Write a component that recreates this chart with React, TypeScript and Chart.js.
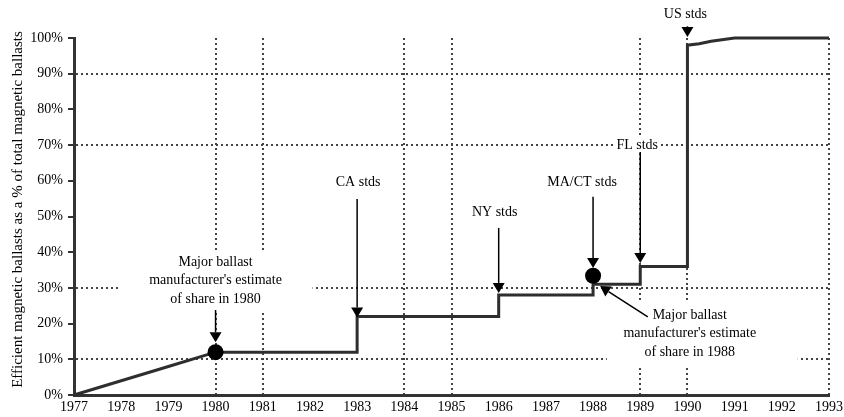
import React, { useEffect, useRef } from "react";
import { Chart, registerables } from "chart.js";

Chart.register(...registerables);

// ---------- data ----------
const years = [1977, 1978, 1979, 1980, 1983, 1983, 1986, 1986, 1988, 1988, 1989, 1989, 1990, 1990, 1990.25, 1990.5, 1991, 1993];
const shares = [0, 4, 8, 12, 12, 22, 22, 28, 28, 31, 31, 36, 36, 98, 98.4, 99.1, 100, 100];

const estimateYears = [1980, 1988];
const estimateShares = [12, 33.4];

const xGridYears = [1980, 1981, 1984, 1985, 1989, 1990, 1993];
const yGridShares = [10, 30, 70, 90];

const yTitle = "Efficient magnetic ballasts as a % of total magnetic ballasts";

const standardLabels = ["CA stds", "NY stds", "MA/CT stds", "FL stds", "US stds"];
const standardYears = [1983, 1986, 1988, 1989, 1990];

const estimateLabel1980 = ["Major ballast", "manufacturer's estimate", "of share in 1980"];
const estimateLabel1988 = ["Major ballast", "manufacturer's estimate", "of share in 1988"];

// ---------- annotation layout (data coords + pixel offsets) ----------
const standardLayout = [
  { dx: 1, textY: 59.7, tailY: 54.9, tipY: 21.7, box: false },
  { dx: -4, textY: 51.3, tailY: 46.8, tipY: 28.6, box: false },
  { dx: -11, textY: 59.7, tailY: 55.5, tipY: 35.6, box: false },
  { dx: -3, textY: 70.0, tailY: 68.1, tipY: 37.0, box: true },
  { dx: -2, textY: 106.7, tailY: 103.3, tipY: 100.3, box: false },
];

const FONT_FAMILY = '"Liberation Serif", "Times New Roman", serif';
const FONT = `14px ${FONT_FAMILY}`;
const TITLE_FONT = `15px ${FONT_FAMILY}`;
const LINE_GAP = 18.5;

function drawArrow(ctx: CanvasRenderingContext2D, x1: number, y1: number, x2: number, y2: number, headLen = 10, headW = 6) {
  const ang = Math.atan2(y2 - y1, x2 - x1);
  const bx = x2 - headLen * Math.cos(ang);
  const by = y2 - headLen * Math.sin(ang);
  ctx.beginPath();
  ctx.moveTo(x1, y1);
  ctx.lineTo(bx, by);
  ctx.stroke();
  ctx.beginPath();
  ctx.moveTo(x2, y2);
  ctx.lineTo(bx + headW * Math.sin(ang), by - headW * Math.cos(ang));
  ctx.lineTo(bx - headW * Math.sin(ang), by + headW * Math.cos(ang));
  ctx.closePath();
  ctx.fill();
}

const annotationPlugin = {
  id: "ballastAnnotations",
  beforeDatasetsDraw(chart: any) {
    const ctx: CanvasRenderingContext2D = chart.ctx;
    const xs = chart.scales.x;
    const ys = chart.scales.y;
    ctx.save();
    ctx.fillStyle = "#fff";
    {
      const cx = xs.getPixelForValue(1980);
      const y0 = ys.getPixelForValue(37.25);
      ctx.fillRect(cx - 96, y0 - 12, 193, LINE_GAP * 2 + 24);
    }
    {
      const cx = xs.getPixelForValue(1990.05);
      const y0 = ys.getPixelForValue(22.4);
      ctx.fillRect(cx - 83, y0 - 12, 191, LINE_GAP * 2 + 28);
    }
    ctx.font = FONT;
    standardLabels.forEach((lab, i) => {
      const L = standardLayout[i];
      if (!L.box) return;
      const cx = xs.getPixelForValue(standardYears[i]) + L.dx;
      const cy = ys.getPixelForValue(L.textY);
      const w = ctx.measureText(lab).width;
      ctx.fillRect(cx - w / 2 - 2, cy - 8, w + 4, 16);
    });
    ctx.restore();
  },
  afterDatasetsDraw(chart: any) {
    const ctx: CanvasRenderingContext2D = chart.ctx;
    const xs = chart.scales.x;
    const ys = chart.scales.y;
    ctx.save();
    ctx.font = FONT;
    ctx.fillStyle = "#000";
    ctx.strokeStyle = "#000";
    ctx.lineWidth = 1.5;
    ctx.textAlign = "center";
    ctx.textBaseline = "middle";

    standardLabels.forEach((lab, i) => {
      const L = standardLayout[i];
      const ax = xs.getPixelForValue(standardYears[i]);
      ctx.fillText(lab, ax + L.dx, ys.getPixelForValue(L.textY));
      drawArrow(ctx, ax, ys.getPixelForValue(L.tailY), ax, ys.getPixelForValue(L.tipY));
    });

    {
      const cx = xs.getPixelForValue(1980);
      const y0 = ys.getPixelForValue(37.25);
      estimateLabel1980.forEach((t, i) => ctx.fillText(t, cx, y0 + i * LINE_GAP));
      drawArrow(ctx, cx, ys.getPixelForValue(23.8), cx, ys.getPixelForValue(14.8));
    }
    {
      const cx = xs.getPixelForValue(1990.05);
      const y0 = ys.getPixelForValue(22.4);
      estimateLabel1988.forEach((t, i) => ctx.fillText(t, cx, y0 + i * LINE_GAP));
      drawArrow(
        ctx,
        xs.getPixelForValue(1989.16),
        ys.getPixelForValue(21.85),
        xs.getPixelForValue(1988.15),
        ys.getPixelForValue(30.5)
      );
    }
    ctx.restore();
  },
  afterDraw(chart: any) {
    const ctx: CanvasRenderingContext2D = chart.ctx;
    const area = chart.chartArea;
    ctx.save();
    ctx.font = TITLE_FONT;
    ctx.fillStyle = "#000";
    ctx.textAlign = "center";
    ctx.textBaseline = "middle";
    ctx.translate(18, (area.top + area.bottom) / 2 - 7);
    ctx.rotate(-Math.PI / 2);
    ctx.fillText(yTitle, 0, 0);
    ctx.restore();
  },
};

export default function App() {
  const canvasRef = useRef<HTMLCanvasElement | null>(null);

  useEffect(() => {
    const canvas = canvasRef.current;
    if (!canvas) return;
    const chart = new Chart(canvas, {
      type: "line",
      data: {
        datasets: [
          {
            type: "scatter",
            label: "Estimates",
            data: estimateYears.map((x, i) => ({ x, y: estimateShares[i] })),
            pointRadius: 8,
            pointBackgroundColor: "#000",
            pointBorderWidth: 0,
            showLine: false,
            order: 0,
            clip: false,
          } as any,
          {
            type: "line",
            label: "Share",
            data: years.map((x, i) => ({ x, y: shares[i] })),
            borderColor: "#2e2e2e",
            borderWidth: 3,
            pointRadius: 0,
            tension: 0,
            fill: false,
            order: 1,
            clip: false,
          } as any,
        ],
      },
      options: {
        animation: false,
        responsive: false,
        events: [],
        layout: { padding: { left: 0, top: 38, right: 15, bottom: 0 } },
        plugins: { legend: { display: false }, tooltip: { enabled: false } },
        scales: {
          x: {
            type: "linear",
            min: 1977,
            max: 1993,
            ticks: {
              stepSize: 1,
              autoSkip: false,
              maxRotation: 0,
              color: "#000",
              font: { family: FONT_FAMILY, size: 14 },
              padding: 1,
              callback: (v: any) => String(v),
            },
            grid: {
              color: (c: any) => (c.tick && xGridYears.includes(c.tick.value) ? "#444" : "rgba(0,0,0,0)"),
              lineWidth: 2,
              drawTicks: true,
              tickLength: 3,
              tickColor: "rgba(0,0,0,0)",
              tickBorderDash: [],
            },
            border: { display: true, color: "#333", width: 3, dash: [2, 3] },
            afterFit: (s: any) => {
              s.height = 22;
            },
          },
          y: {
            min: 0,
            max: 100,
            ticks: {
              stepSize: 10,
              color: "#000",
              font: { family: FONT_FAMILY, size: 14 },
              padding: 5,
              callback: (v: any) => `${v}%`,
            },
            grid: {
              color: (c: any) => (c.tick && yGridShares.includes(c.tick.value) ? "#444" : "rgba(0,0,0,0)"),
              lineWidth: 2,
              tickLength: 6,
              tickColor: "#333",
              tickWidth: 2,
              tickBorderDash: [],
            },
            border: { display: true, color: "#333", width: 3, dash: [2, 3] },
            afterFit: (s: any) => {
              s.width = 74;
            },
          },
        },
      } as any,
      plugins: [annotationPlugin],
    });
    return () => chart.destroy();
  }, []);

  return (
    <div style={{ position: "absolute", left: 0, top: 0, width: 844, height: 417, background: "#fff" }}>
      <canvas ref={canvasRef} width={844} height={417} style={{ display: "block" }} />
    </div>
  );
}
